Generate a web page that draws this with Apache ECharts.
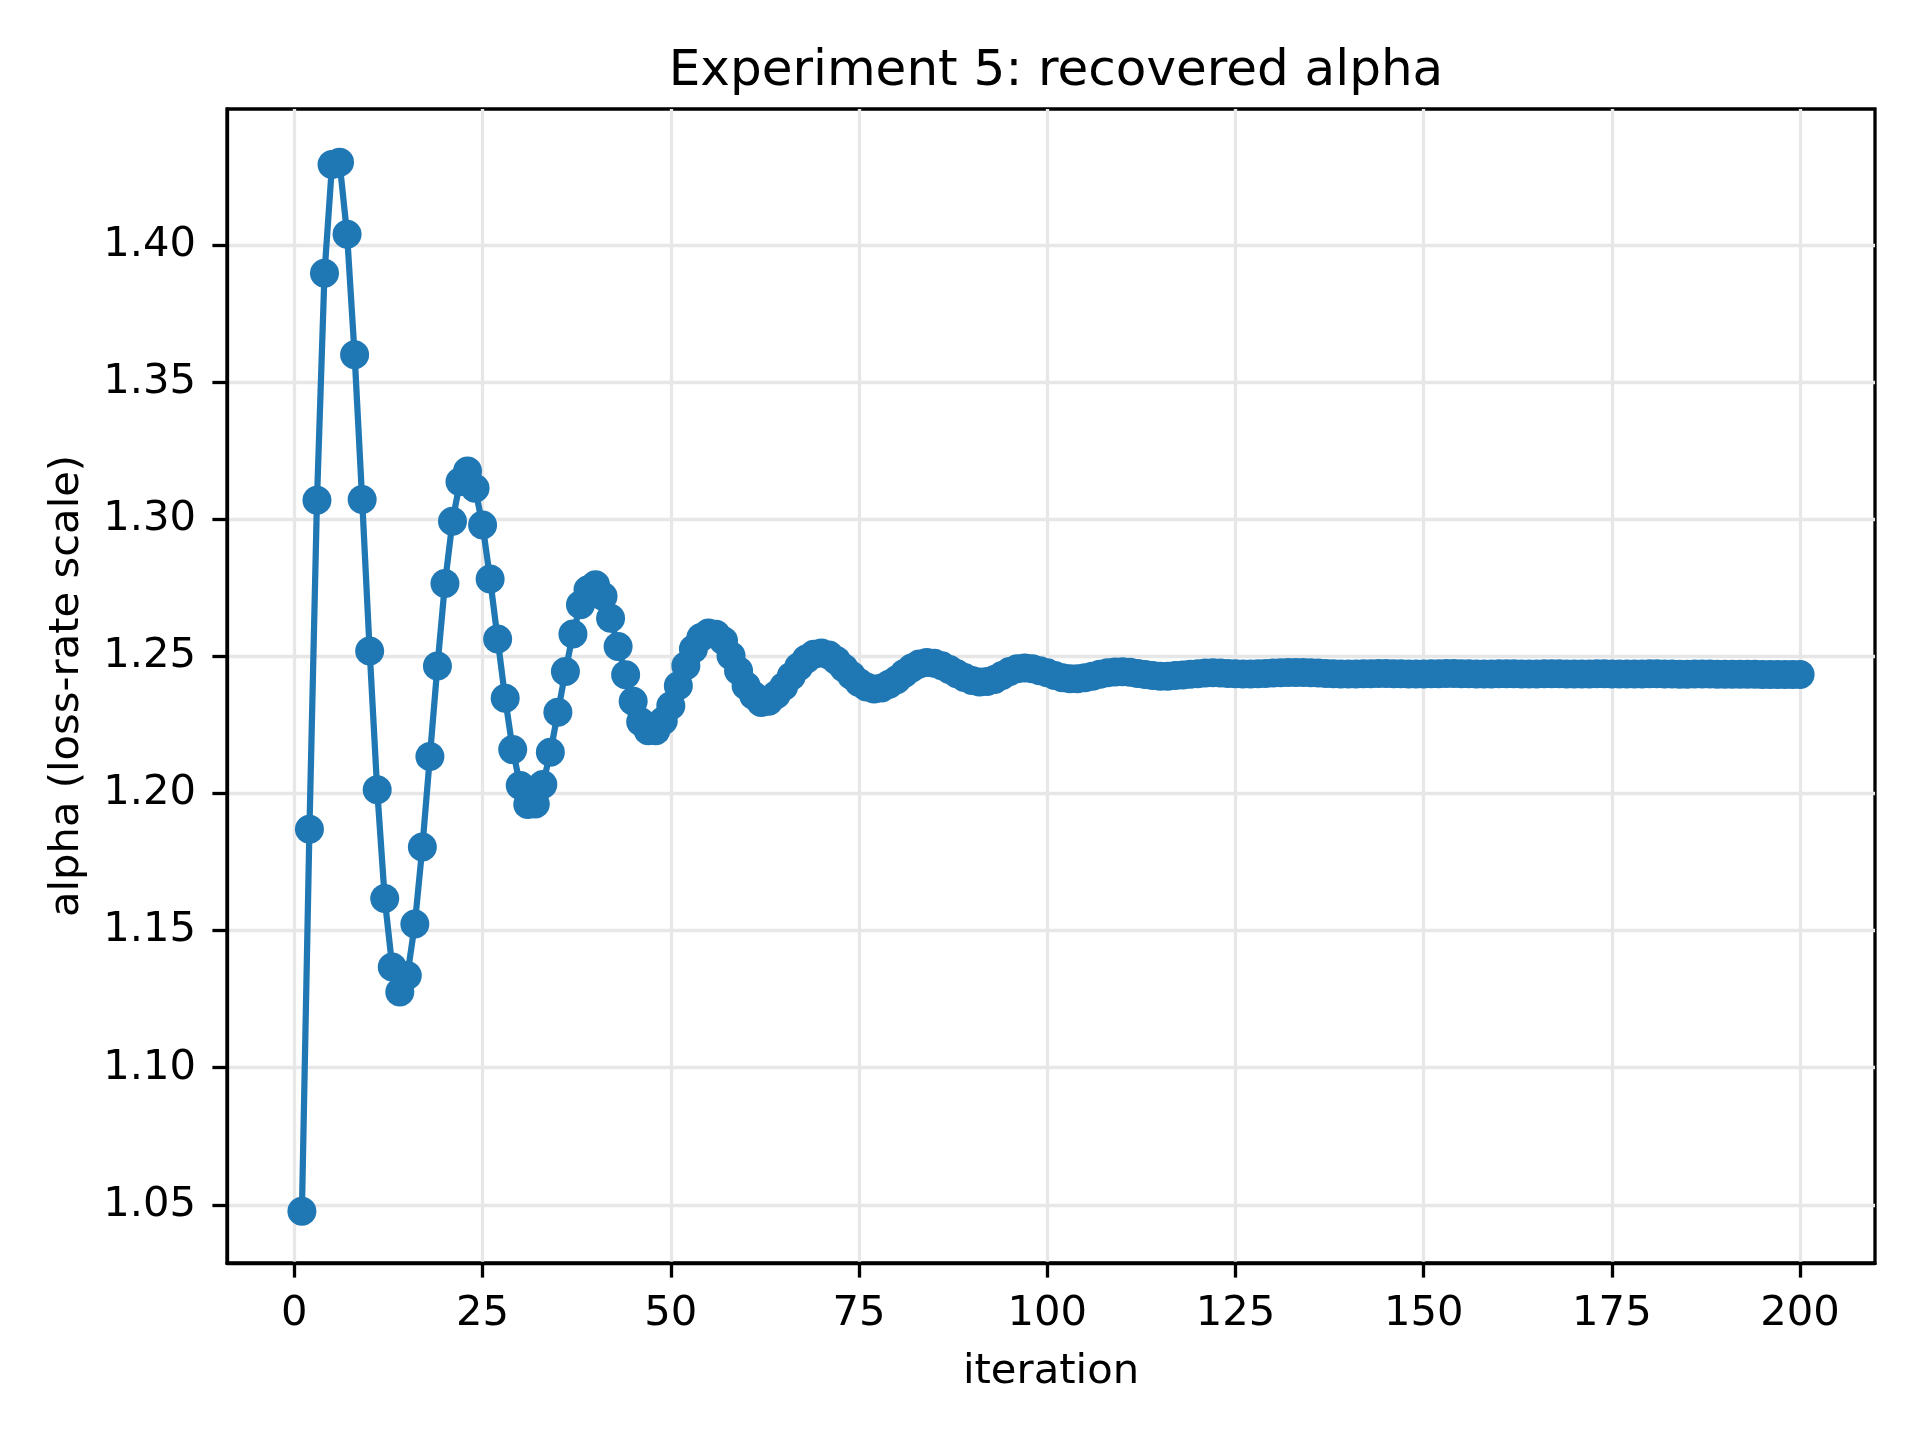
<!DOCTYPE html>
<html>
<head>
<meta charset="utf-8">
<script src="https://cdn.jsdelivr.net/npm/echarts@6/dist/echarts.min.js"></script>
<style>
  html, body { margin: 0; padding: 0; background: #fff; }
  #chart { width: 1920px; height: 1440px; }
</style>
</head>
<body>
<div id="chart"></div>
<script>
// ---- data ----
const titleText = "Experiment 5: recovered alpha";
const xName = "iteration";
const yName = "alpha (loss-rate scale)";
const xTicks = [0, 25, 50, 75, 100, 125, 150, 175, 200];
const yTicks = [1.05, 1.10, 1.15, 1.20, 1.25, 1.30, 1.35, 1.40];

const alpha1to50 = [
  1.0477, 1.1870, 1.3069, 1.3897, 1.4294, 1.4302, 1.4039, 1.3600, 1.3072, 1.2520,
  1.2014, 1.1617, 1.1367, 1.1276, 1.1336, 1.1524, 1.1805, 1.2135, 1.2465, 1.2766,
  1.2993, 1.3137, 1.3176, 1.3113, 1.2979, 1.2782, 1.2563, 1.2347, 1.2160, 1.2029,
  1.1960, 1.1962, 1.2033, 1.2150, 1.2296, 1.2445, 1.2582, 1.2688, 1.2743, 1.2761,
  1.2719, 1.2639, 1.2536, 1.2433, 1.2336, 1.2262, 1.2229, 1.2229, 1.2265, 1.2320
];
const alpha51to100 = [
  1.2393, 1.2466, 1.2527, 1.2569, 1.2585, 1.2581, 1.2557, 1.2502, 1.2448, 1.2393,
  1.2357, 1.2332, 1.2336, 1.2360, 1.2390, 1.2428, 1.2462, 1.2490, 1.2508, 1.2512,
  1.2505, 1.2485, 1.2458, 1.2430, 1.2405, 1.2388, 1.2381, 1.2385, 1.2398, 1.2415,
  1.2438, 1.2458, 1.2472, 1.2478, 1.2475, 1.2466, 1.2452, 1.2437, 1.2423, 1.2412,
  1.2407, 1.2408, 1.2416, 1.2430, 1.2445, 1.2455, 1.2458, 1.2455, 1.2448, 1.2440
];
const alpha101to150 = [
  1.2430, 1.2422, 1.2418, 1.2418, 1.2422, 1.2428, 1.2435, 1.2440, 1.2443, 1.2444,
  1.2442, 1.2438, 1.2434, 1.2430, 1.2428, 1.2428, 1.2430, 1.2432, 1.2435, 1.2437,
  1.2439, 1.2440, 1.2439, 1.2438, 1.2437, 1.2436, 1.2436, 1.2437, 1.2438, 1.2439,
  1.2440, 1.2441, 1.2441, 1.2441, 1.2440, 1.2439, 1.2438, 1.2437, 1.2436, 1.2436,
  1.2436, 1.2437, 1.2437, 1.2438, 1.2438, 1.2437, 1.2437, 1.2436, 1.2436, 1.2436
];
const alpha151to200 = [
  1.2437, 1.2437, 1.2438, 1.2438, 1.2437, 1.2437, 1.2436, 1.2436, 1.2436, 1.2437,
  1.2437, 1.2437, 1.2436, 1.2436, 1.2436, 1.2437, 1.2437, 1.2437, 1.2436, 1.2436,
  1.2436, 1.2436, 1.2437, 1.2437, 1.2436, 1.2436, 1.2436, 1.2436, 1.2436, 1.2437,
  1.2437, 1.2436, 1.2436, 1.2435, 1.2435, 1.2436, 1.2436, 1.2436, 1.2435, 1.2435,
  1.2435, 1.2435, 1.2435, 1.2435, 1.2434, 1.2434, 1.2434, 1.2434, 1.2434, 1.2434
];
const alpha = [].concat(alpha1to50, alpha51to100, alpha101to150, alpha151to200);
const iterations = alpha.map((_, k) => k + 1);

// ---- chart ----
const seriesData = iterations.map((it, k) => [it, alpha[k]]);
const FONT = "DejaVu Sans";
const chart = echarts.init(document.getElementById('chart'), null, { renderer: 'canvas' });

chart.setOption({
  animation: false,
  backgroundColor: '#ffffff',
  title: {
    text: titleText,
    left: 1051,
    top: 42,
    textAlign: 'center',
    textStyle: { fontFamily: FONT, fontSize: 50, fontWeight: 'normal', color: '#000' }
  },
  grid: {
    left: 227, right: 45, top: 109, bottom: 177,
    show: true, borderColor: '#000', borderWidth: 3.3, backgroundColor: 'transparent',
    containLabel: false
  },
  xAxis: {
    type: 'value',
    min: -8.95, max: 209.95, interval: 25,
    name: xName, nameLocation: 'middle', nameGap: 88,
    nameTextStyle: { fontFamily: FONT, fontSize: 41.7, color: '#000' },
    axisLine: { show: true, onZero: false, lineStyle: { color: '#000', width: 3.3 } },
    axisTick: { show: true, inside: false, length: 14.6, customValues: xTicks, lineStyle: { color: '#000', width: 3.3 } },
    axisLabel: {
      show: true, margin: 30, customValues: xTicks, showMinLabel: true, showMaxLabel: true,
      fontFamily: FONT, fontSize: 41.7, color: '#000',
      formatter: v => String(Math.round(v))
    },
    splitLine: { show: true, lineStyle: { color: '#e7e7e7', width: 3.3 } }
  },
  yAxis: {
    type: 'value',
    min: 1.0288, max: 1.4496, interval: 0.05,
    name: yName, nameLocation: 'middle', nameGap: 139, nameRotate: 90,
    nameTextStyle: { fontFamily: FONT, fontSize: 41.7, color: '#000' },
    axisLine: { show: true, onZero: false, lineStyle: { color: '#000', width: 3.3 } },
    axisTick: { show: true, inside: false, length: 14.6, customValues: yTicks, lineStyle: { color: '#000', width: 3.3 } },
    axisLabel: {
      show: true, margin: 31, customValues: yTicks,
      fontFamily: FONT, fontSize: 41.7, color: '#000',
      formatter: v => v.toFixed(2)
    },
    splitLine: { show: true, lineStyle: { color: '#e7e7e7', width: 3.3 } }
  },
  series: [{
    type: 'line',
    data: seriesData,
    symbol: 'circle',
    symbolSize: 29,
    showSymbol: true,
    showAllSymbol: true,
    lineStyle: { color: '#1f77b4', width: 6.25 },
    itemStyle: { color: '#1f77b4', borderWidth: 0 },
    emphasis: { disabled: true },
    z: 3
  }]
});
</script>
</body>
</html>
